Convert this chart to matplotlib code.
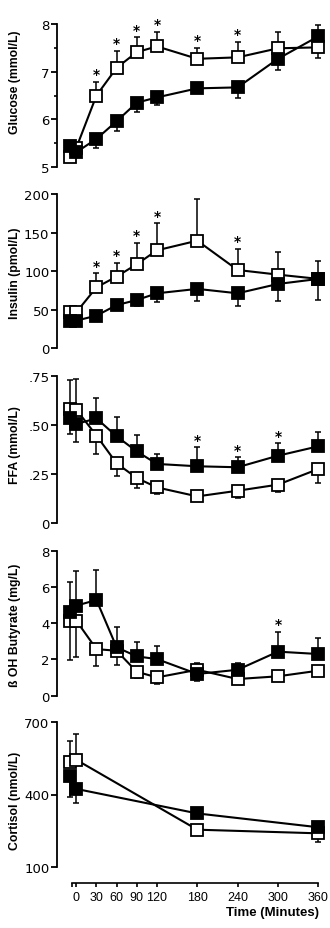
import matplotlib
matplotlib.use("Agg")
import matplotlib.pyplot as plt
from matplotlib import font_manager

# ---------------- data ----------------
time = [-10, 0, 30, 60, 90, 120, 180, 240, 300, 360]
time_cort = [-10, 0, 180, 360]
x_ticks = [0, 30, 60, 90, 120, 180, 240, 300, 360]

glucose_open = [5.2, 5.4, 6.5, 7.08, 7.41, 7.53, 7.27, 7.30, 7.49, 7.51]
glucose_open_up = [0, 0, 0.28, 0.36, 0.31, 0.30, 0.23, 0.33, 0.35, 0]
glucose_open_lo = [0.05, 0, 0, 0, 0, 0, 0, 0, 0, 0.23]
glucose_filled = [5.45, 5.31, 5.59, 5.96, 6.35, 6.46, 6.65, 6.67, 7.27, 7.74]
glucose_filled_up = [0, 0, 0, 0, 0, 0, 0, 0, 0, 0.24]
glucose_filled_lo = [0, 0, 0.19, 0.21, 0.19, 0.16, 0, 0.23, 0.23, 0]
glucose_stars = [2, 3, 4, 5, 6, 7]

insulin_open = [46.7, 46.7, 79, 93, 109, 127, 139.5, 101.5, 95.5, 90]
insulin_open_up = [0, 0, 18, 18, 27.5, 35, 54.5, 27.2, 29.8, 23.6]
insulin_open_lo = [0, 0, 0, 0, 0, 0, 0, 0, 0, 0]
insulin_filled = [35.9, 35.9, 42.3, 56, 62.6, 71.3, 77, 71.3, 83.4, 89.9]
insulin_filled_up = [0, 0, 0, 0, 0, 0, 0, 0, 0, 0]
insulin_filled_lo = [0, 0, 0, 0, 7.6, 10.8, 15.2, 16, 21.6, 27.3]
insulin_stars = [2, 3, 4, 5, 7]

ffa_open = [0.583, 0.580, 0.447, 0.305, 0.230, 0.182, 0.136, 0.165, 0.196, 0.276]
ffa_open_up = [0.150, 0.156, 0, 0, 0, 0, 0, 0, 0, 0]
ffa_open_lo = [0, 0, 0.094, 0.063, 0.053, 0.034, 0, 0.039, 0.039, 0.073]
ffa_filled = [0.535, 0.506, 0.535, 0.443, 0.366, 0.302, 0.290, 0.285, 0.344, 0.392]
ffa_filled_up = [0, 0, 0.104, 0.097, 0.084, 0.051, 0.097, 0.051, 0.063, 0.072]
ffa_filled_lo = [0.080, 0.090, 0, 0, 0, 0, 0, 0, 0, 0]
ffa_stars = [6, 7, 8]

but_open = [4.14, 4.14, 2.57, 2.48, 1.32, 1.01, 1.43, 0.92, 1.07, 1.38]
but_open_up = [0, 0, 0, 0, 0, 0, 0.37, 0, 0, 0]
but_open_lo = [2.15, 2.03, 0.95, 0.78, 0.36, 0.37, 0, 0, 0, 0]
but_filled = [4.63, 4.97, 5.28, 2.67, 2.17, 2.02, 1.20, 1.43, 2.43, 2.30]
but_filled_up = [1.62, 1.93, 1.67, 1.10, 0.81, 0.70, 0, 0.35, 1.10, 0.86]
but_filled_lo = [0, 0, 0, 0, 0, 0, 0.37, 0, 0, 0]
but_stars = [8]

cort_open = [532, 543, 255, 240]
cort_open_up = [89, 105, 0, 0]
cort_open_lo = [0, 0, 0, 34]
cort_filled = [475, 423, 322, 265]
cort_filled_up = [0, 0, 10, 0]
cort_filled_lo = [84, 58, 0, 0]

# ---------------- style ----------------
names = {f.name for f in font_manager.fontManager.ttflist}
narrow = "Liberation Sans Narrow" if "Liberation Sans Narrow" in names else "Liberation Sans"
plt.rcParams["font.family"] = ["DejaVu Sans"]

W, H = 330, 929
fig = plt.figure(figsize=(W / 100, H / 100), dpi=100)

X0, X1 = 57, 325
XMIN, XMAX = -28.7, 370


def make_ax(ytop, ybot):
    return fig.add_axes([X0 / W, 1 - ybot / H, (X1 - X0) / W, (ybot - ytop) / H])


panels = [
    dict(pos=(25, 168), ylim=(5, 8), yticks=[5, 6, 7, 8], ylabels=["5", "6", "7", "8"],
         minor=[5.5, 6.5, 7.5], label="Glucose (mmol/L)", label_y=82, t=time,
         o=(glucose_open, glucose_open_lo, glucose_open_up),
         f=(glucose_filled, glucose_filled_lo, glucose_filled_up),
         stars=glucose_stars, star_on="o"),
    dict(pos=(195, 349.3), ylim=(0, 200), yticks=[0, 50, 100, 150, 200],
         ylabels=["0", "50", "100", "150", "200"], minor=[],
         label="Insulin (pmol/L)", label_y=273, t=time,
         o=(insulin_open, insulin_open_lo, insulin_open_up),
         f=(insulin_filled, insulin_filled_lo, insulin_filled_up),
         stars=insulin_stars, star_on="o"),
    dict(pos=(377.3, 524), ylim=(0, 0.75), yticks=[0, 0.25, 0.5, 0.75],
         ylabels=["0", ".25", ".50", ".75"], minor=[],
         label="FFA (mmol/L)", label_y=445, t=time,
         o=(ffa_open, ffa_open_lo, ffa_open_up),
         f=(ffa_filled, ffa_filled_lo, ffa_filled_up),
         stars=ffa_stars, star_on="f"),
    dict(pos=(551.7, 696.7), ylim=(0, 8), yticks=[0, 2, 4, 6, 8],
         ylabels=["0", "2", "4", "6", "8"], minor=[],
         label="ß OH Butyrate (mg/L)", label_y=625, t=time,
         o=(but_open, but_open_lo, but_open_up),
         f=(but_filled, but_filled_lo, but_filled_up),
         stars=but_stars, star_on="f"),
    dict(pos=(722.7, 868.3), ylim=(100, 700), yticks=[100, 400, 700],
         ylabels=["100", "400", "700"], minor=[],
         label="Cortisol (nmol/L)", label_y=801, t=time_cort,
         o=(cort_open, cort_open_lo, cort_open_up),
         f=(cort_filled, cort_filled_lo, cort_filled_up),
         stars=[], star_on="f"),
]

for i, p in enumerate(panels):
    ax = make_ax(*p["pos"])
    ax.set_xlim(XMIN, XMAX)
    ax.set_ylim(*p["ylim"])
    for s in ["top", "right"]:
        ax.spines[s].set_visible(False)
    ax.spines["left"].set_linewidth(1.3)
    ax.set_yticks(p["yticks"])
    ax.set_yticklabels(p["ylabels"])
    ax.set_yticks(p["minor"], minor=True)
    ax.tick_params(axis="y", which="major", direction="out", length=4, width=1.3,
                   labelsize=9.5, pad=1.5)
    ax.tick_params(axis="y", which="minor", direction="out", length=2.5, width=1.2)
    fig.text(15 / W, 1 - p["label_y"] / H, p["label"], rotation=90,
             ha="center", va="center", fontsize=8.8, fontweight="bold",
             family=["Liberation Sans", "DejaVu Sans"])

    t = p["t"]
    for key, fc, z in [("o", "white", 3), ("f", "black", 4)]:
        vals, lo, up = p[key]
        ax.errorbar(t, vals, yerr=[lo, up], fmt="none", ecolor="black",
                    elinewidth=1.1, capsize=2.4, capthick=1.1, zorder=z - 1,
                    clip_on=False)
        ax.plot(t, vals, color="black", lw=1.5, marker="s", ms=8,
                mfc=fc, mec="black", mew=1.3, zorder=z, clip_on=False)

    vals, lo, up = p[p["star_on"]]
    for k in p["stars"]:
        ax.annotate("*", (t[k], vals[k] + up[k]), xytext=(0, 0.5),
                    textcoords="offset points", ha="center", va="bottom",
                    fontsize=10, fontweight="bold", annotation_clip=False)

    if i < len(panels) - 1:
        ax.spines["bottom"].set_visible(False)
        ax.set_xticks([])
    else:
        ax.spines["bottom"].set_position(("outward", 11))
        ax.spines["bottom"].set_bounds(-7, 360)
        ax.spines["bottom"].set_linewidth(1.2)
        ax.set_xticks([-7] + x_ticks)
        ax.set_xticklabels([""] + [str(v) for v in x_ticks], family=narrow,
                           fontsize=9)
        ax.tick_params(axis="x", direction="out", length=3, width=1.2, pad=3)
        fig.text(273 / W, 1 - 913 / H, "Time (Minutes)", ha="center", va="center",
                 fontsize=9.5, fontweight="bold",
                 family=["Liberation Sans", "DejaVu Sans"])

fig.savefig("out.png", dpi=100)
